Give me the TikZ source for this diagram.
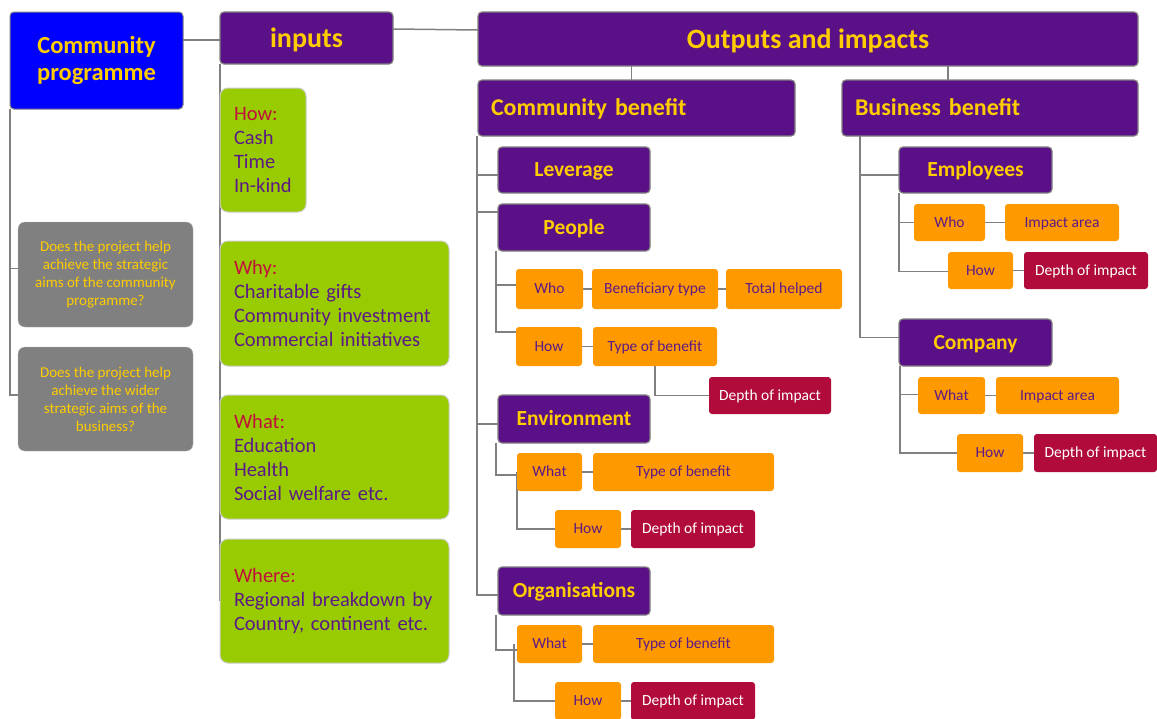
\documentclass[tikz,border=0pt]{standalone}
\usepackage{fontspec}
\setmainfont{Carlito}
\usetikzlibrary{calc,backgrounds}
\definecolor{cpblue}{HTML}{0000FF}
\definecolor{purp}{HTML}{5A1086}
\definecolor{ylw}{HTML}{FFCC00}
\definecolor{grn}{HTML}{99CC00}
\definecolor{org}{HTML}{FF9900}
\definecolor{crim}{HTML}{B00B3A}
\definecolor{gry}{HTML}{808080}
\definecolor{ttl}{HTML}{C0103C}
\definecolor{ptxt}{HTML}{5B1A87}
\newcommand\bx[7]{\node[#2, anchor=north west, minimum width={#5pt-#3pt}, minimum height={#6pt-#4pt}] (#1) at (#3,#4) {#7};}
\tikzset{
  base/.style={rounded corners=4pt, inner sep=0pt, outer sep=0pt},
  bluebox/.style={base, fill=cpblue, draw=gry, line width=1pt, text=ylw, font=\fontsize{24.5}{27}\selectfont\bfseries, align=center},
  purpbox/.style={base, fill=purp, draw=gry, line width=1.2pt, text=ylw, font=\fontsize{21.5}{24}\selectfont\bfseries, align=center, text height=17.6pt, text depth=3.9pt},
  bigpurp/.style={purpbox, font=\fontsize{28}{30}\selectfont\bfseries, text height=23pt, text depth=5pt},
  headpurp/.style={purpbox, font=\fontsize{24}{26}\selectfont\bfseries, align=left, inner xsep=13pt, text height=19.7pt, text depth=4.3pt},
  greybox/.style={base, rounded corners=7pt, fill=gry, draw=gry!60, text=ylw, font=\fontsize{15}{18}\selectfont, align=center},
  greenbox/.style={base, rounded corners=8pt, fill=grn, draw=black!20, line width=1pt, text=ptxt, font=\fontsize{20.5}{24}\selectfont, align=left, inner xsep=14pt},
  orgbox/.style={base, rounded corners=3pt, fill=org, text=ptxt, font=\fontsize{15.5}{18}\selectfont, align=center, text height=12.4pt, text depth=3.1pt},
  crimbox/.style={orgbox, fill=crim, text=white},
  conn/.style={draw=gry, line width=1.5pt},
}
\begin{document}
\begin{tikzpicture}[x=1pt,y=-1pt]
\useasboundingbox (0,0) rectangle (1157,718);
% top level
\bx{cp}{bluebox}{10}{12}{183}{109}{Community\\programme}
\bx{inp}{bigpurp}{220}{12}{393}{64}{inputs}
\bx{out}{bigpurp}{478}{12}{1138}{66}{Outputs and impacts}
\bx{cb}{headpurp, text width=291pt}{478}{80}{795}{136}{Community benefit}
\bx{bb}{headpurp, text width=270pt}{842}{80}{1138}{136}{Business benefit}
% grey questions
\bx{g1}{greybox}{18}{222}{193}{327}{Does the project help\\achieve the strategic\\aims of the community\\programme?}
\bx{g2}{greybox}{18}{347}{193}{451}{Does the project help\\achieve the wider\\strategic aims of the\\business?}
% green inputs
\bx{ghow}{greenbox, text width=58pt}{220}{88}{306}{212}{\textcolor{ttl}{How:}\\Cash\\Time\\In-kind}
\bx{gwhy}{greenbox, text width=201pt}{220}{241}{449}{366}{\textcolor{ttl}{Why:}\\Charitable gifts\\Community investment\\Commercial initiatives}
\bx{gwhat}{greenbox, text width=201pt}{220}{395}{449}{519}{\textcolor{ttl}{What:}\\Education\\Health\\Social welfare etc.}
\bx{gwhere}{greenbox, text width=201pt}{220}{539}{449}{663}{\textcolor{ttl}{Where:}\\Regional breakdown by\\Country, continent etc.}
% community benefit
\bx{lev}{purpbox}{498}{147}{650}{193}{Leverage}
\bx{ppl}{purpbox}{498}{204}{650}{251}{People}
\bx{env}{purpbox}{498}{395}{650}{443}{Environment}
\bx{orgn}{purpbox}{498}{567}{650}{615}{Organisations}
\bx{pwho}{orgbox}{516}{269}{583}{309}{Who}
\bx{pben}{orgbox}{592}{269}{718}{309}{Beneficiary type}
\bx{ptot}{orgbox}{726}{269}{842}{309}{Total helped}
\bx{phow}{orgbox}{516}{327}{582}{366}{How}
\bx{ptype}{orgbox}{593}{327}{717}{366}{Type of benefit}
\bx{pdep}{crimbox}{709}{377}{831}{414}{Depth of impact}
\bx{ewhat}{orgbox}{517}{453}{582}{491}{What}
\bx{etype}{orgbox}{593}{453}{774}{491}{Type of benefit}
\bx{ehow}{orgbox}{555}{510}{621}{548}{How}
\bx{edep}{crimbox}{631}{510}{755}{548}{Depth of impact}
\bx{owhat}{orgbox}{517}{625}{582}{663}{What}
\bx{otype}{orgbox}{593}{625}{774}{663}{Type of benefit}
\bx{ohow}{orgbox}{555}{682}{621}{720}{How}
\bx{odep}{crimbox}{631}{682}{755}{720}{Depth of impact}
% business benefit
\bx{emp}{purpbox}{899}{147}{1052}{193}{Employees}
\bx{com}{purpbox}{899}{319}{1052}{366}{Company}
\bx{bwho}{orgbox}{914}{204}{985}{241}{Who}
\bx{bimp}{orgbox}{1005}{204}{1119}{241}{Impact area}
\bx{bhow}{orgbox}{948}{252}{1013}{289}{How}
\bx{bdep}{crimbox}{1024}{252}{1148}{289}{Depth of impact}
\bx{cwhat}{orgbox}{918}{377}{985}{414}{What}
\bx{cimp}{orgbox}{996}{377}{1119}{414}{Impact area}
\bx{chow}{orgbox}{957}{434}{1023}{472}{How}
\bx{cdep}{crimbox}{1034}{434}{1157}{472}{Depth of impact}
% connectors
\begin{scope}[on background layer]
\draw[conn] ([yshift=-2pt]inp.west) -- ([yshift=-2pt]inp.west -| cp.east);
\draw[conn] ([yshift=9pt]inp.east) -- ([yshift=9pt]out.west);
\draw[conn] ($(cb.north)+(-5,0)$) -- ($(cb.north |- out.south)+(-5,0)$);
\draw[conn] ($(bb.north)+(-42,0)$) -- ($(bb.north |- out.south)+(-42,0)$);
\draw[conn] (cp.south west) |- ([yshift=6pt]g1.west);
\draw[conn] (cp.south west) |- ([yshift=4pt]g2.west);
\draw[conn] (inp.south west) -- (inp.south west |- gwhere.west);
% community benefit tree
\draw[conn] ([xshift=-1pt]cb.south west) |- ([yshift=-5pt]lev.west);
\draw[conn] ([xshift=-1pt]cb.south west) |- ([yshift=-8pt]ppl.north west);
\draw[conn] ([xshift=-1pt]cb.south west) |- ([yshift=-5pt]env.west);
\draw[conn] ([xshift=-1pt]cb.south west) |- ([yshift=-4pt]orgn.west);
\draw[conn] ([xshift=-2pt]ppl.south west) |- ([yshift=4pt]pwho.west);
\draw[conn] ([xshift=-2pt]ppl.south west) |- ([yshift=-5pt]phow.north west);
\draw[conn] (pwho.east) -- (pben.west);
\draw[conn] (pben.east) -- (ptot.west);
\draw[conn] (phow.east) -- (ptype.west);
\draw[conn] (ptype.south) |- (pdep.west);
\draw[conn] ([xshift=-2pt]env.south west) |- ([yshift=-3pt]ewhat.west);
\draw[conn] (ewhat.west) |- (ehow.west);
\draw[conn] (ewhat.east) -- (etype.west);
\draw[conn] (ehow.east) -- (edep.west);
\draw[conn] ([xshift=-2pt]orgn.south west) |- ([yshift=-6pt]owhat.west);
\draw[conn] ([xshift=-3pt]owhat.west) |- (ohow.west);
\draw[conn] (owhat.east) -- (otype.west);
\draw[conn] (ohow.east) -- (odep.west);
% business benefit tree
\draw[conn] ([xshift=18pt]bb.south west) |- ([yshift=-5pt]emp.west);
\draw[conn] ([xshift=18pt]bb.south west) |- ([yshift=5pt]com.west);
\draw[conn] (emp.south west) |- (bwho.west);
\draw[conn] (emp.south west) |- ([yshift=-1pt]bhow.west);
\draw[conn] (bwho.east) -- (bimp.west);
\draw[conn] (bhow.east) -- (bdep.west);
\draw[conn] ([xshift=1pt]com.south west) |- ([yshift=1pt]cwhat.west);
\draw[conn] ([xshift=1pt]com.south west) |- (chow.west);
\draw[conn] (cwhat.east) -- (cimp.west);
\draw[conn] (chow.east) -- (cdep.west);
\end{scope}
\end{tikzpicture}
\end{document}
